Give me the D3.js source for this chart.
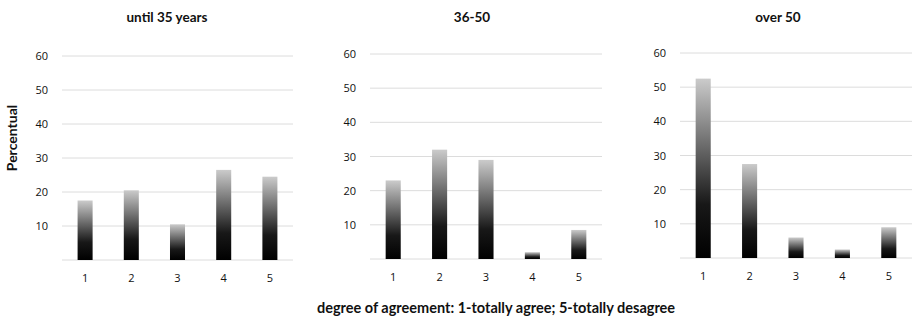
<!DOCTYPE html>
<html>
<head>
<meta charset="utf-8">
<script src="https://cdn.jsdelivr.net/npm/d3@7"></script>
<style>
  html, body { margin: 0; padding: 0; background: #fff; }
  svg { display: block; font-family: Lato, "Open Sans", sans-serif; }
</style>
</head>
<body>
<svg id="chart" width="912" height="320"></svg>
<script>
// Agreement level (1 = totally agree ... 5 = totally disagree)
const categories = ["1", "2", "3", "4", "5"];
const groupTitles = ["until 35 years", "36-50", "over 50"];
// Percent of respondents per agreement level, by age group
const until35 = [17.5, 20.5, 10.5, 26.5, 24.5];
const age36to50 = [23, 32, 29, 2, 8.5];
const over50 = [52.5, 27.5, 6, 2.5, 9];
const yTicks = [10, 20, 30, 40, 50, 60];
const yMax = 60;

const seriesList = [until35, age36to50, over50];

// Plot-area frames of the three small multiples
const frames = [
  { x0: 62,  x1: 293, yTop: 56, yBot: 260, titleX: 167 },
  { x0: 370, x1: 602, yTop: 54, yBot: 259, titleX: 472 },
  { x0: 680, x1: 912, yTop: 53, yBot: 258, titleX: 778 }
];

const tickFont = "'Open Sans', Lato, sans-serif";

const svg = d3.select("#chart");

// Vertical gradient: black at the base, light grey at the top of each bar
const defs = svg.append("defs");
const grad = defs.append("linearGradient")
  .attr("id", "barGrad")
  .attr("x1", 0).attr("y1", 1).attr("x2", 0).attr("y2", 0);
grad.append("stop").attr("offset", "0%").attr("stop-color", "#000");
grad.append("stop").attr("offset", "30%").attr("stop-color", "#181818");
grad.append("stop").attr("offset", "100%").attr("stop-color", "#cbcbcb");

frames.forEach((f, i) => {
  const values = seriesList[i];
  const g = svg.append("g");

  const x = d3.scaleBand().domain(categories).range([f.x0, f.x1]).paddingInner(0.675).paddingOuter(0.3375);
  const y = d3.scaleLinear().domain([0, yMax]).range([f.yBot, f.yTop]);

  // Gridlines (including the zero baseline)
  g.append("g").selectAll("line")
    .data([0].concat(yTicks))
    .join("line")
    .attr("x1", f.x0).attr("x2", f.x1)
    .attr("y1", d => y(d)).attr("y2", d => y(d))
    .attr("stroke", "#dcdcdc").attr("stroke-width", 1);

  // Y tick labels
  const yAxis = d3.axisLeft(y).tickValues(yTicks).tickSize(0).tickPadding(14);
  g.append("g")
    .attr("transform", `translate(${f.x0},0)`)
    .call(yAxis)
    .call(s => s.select(".domain").remove())
    .call(s => s.selectAll("text")
      .attr("font-size", 11).attr("fill", "#111")
      .attr("font-family", tickFont));

  // X tick labels
  const xAxis = d3.axisBottom(x).tickSize(0).tickPadding(14);
  g.append("g")
    .attr("transform", `translate(0,${f.yBot})`)
    .call(xAxis)
    .call(s => s.select(".domain").remove())
    .call(s => s.selectAll("text")
      .attr("font-size", 11).attr("fill", "#111")
      .attr("font-family", tickFont));

  // Bars
  g.append("g").selectAll("rect")
    .data(values)
    .join("rect")
    .attr("x", (d, j) => x(categories[j]))
    .attr("width", x.bandwidth())
    .attr("y", d => y(d))
    .attr("height", d => y(0) - y(d))
    .attr("fill", "url(#barGrad)");

  // Panel title
  svg.append("text")
    .attr("x", f.titleX).attr("y", 22)
    .attr("text-anchor", "middle")
    .attr("font-size", 13.5).attr("font-weight", "bold").attr("fill", "#111")
    .text(groupTitles[i]);
});

// Shared axis titles
svg.append("text")
  .attr("transform", "translate(17,138) rotate(-90)")
  .attr("text-anchor", "middle")
  .attr("font-size", 14).attr("font-weight", "bold").attr("fill", "#111")
  .text("Percentual");

svg.append("text")
  .attr("x", 496).attr("y", 313)
  .attr("text-anchor", "middle")
  .attr("font-size", 14.5).attr("font-weight", "bold").attr("fill", "#111")
  .text("degree of agreement: 1-totally agree; 5-totally desagree");
</script>
</body>
</html>
